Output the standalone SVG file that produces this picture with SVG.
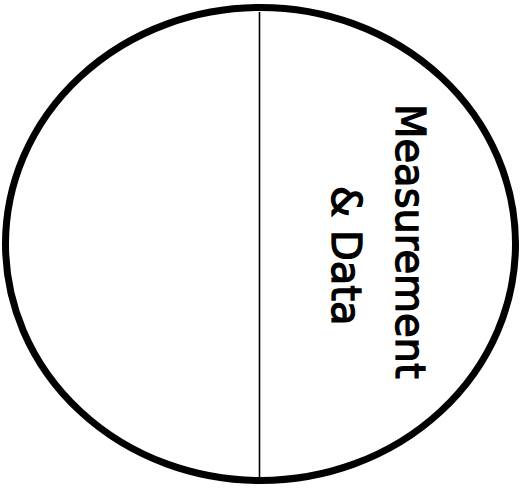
<svg xmlns="http://www.w3.org/2000/svg" width="525" height="493" viewBox="0 0 525 493">
<style>
.lbl{font-family:"DejaVu Sans",sans-serif;font-size:40px;fill:#000;stroke:#000;stroke-width:1.3}
</style>
<rect width="525" height="493" fill="#fff"/>
<g id="circle">
<ellipse cx="260.5" cy="244" rx="255" ry="236.5" fill="none" stroke="#000" stroke-width="7"/>
</g>
<g id="connectors">
<line x1="259.5" y1="12" x2="259.5" y2="480" stroke="#000" stroke-width="1.6"/>
</g>
<g id="label">
<text class="lbl" transform="translate(396,104) rotate(90)">Measurement</text>
<text class="lbl" transform="translate(332,186) rotate(90)">&amp; Data</text>
</g>
</svg>
